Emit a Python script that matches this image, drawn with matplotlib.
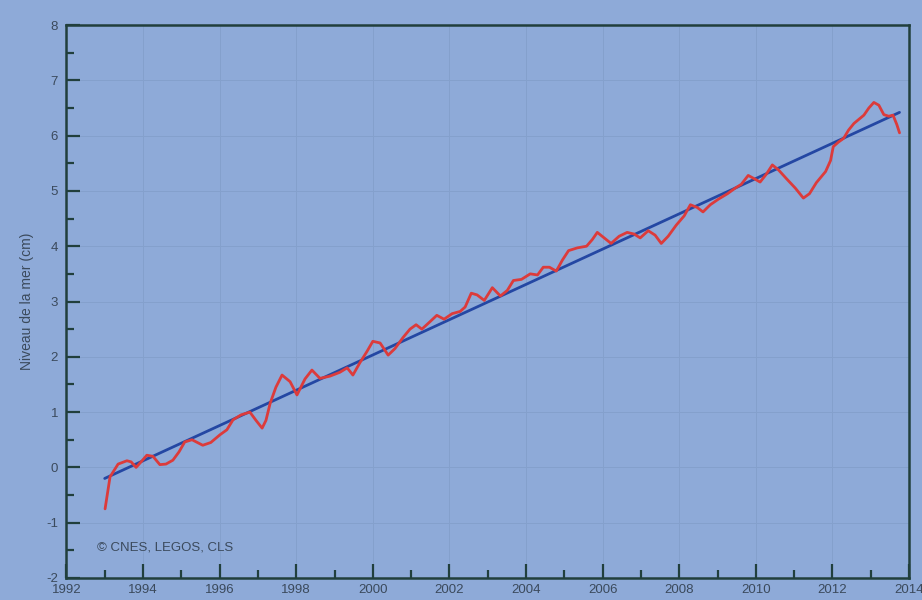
import matplotlib
matplotlib.use("Agg")
import matplotlib.pyplot as plt
from matplotlib.ticker import MultipleLocator

# Mean sea level (cm) from satellite altimetry, 1993-2013
years = [
    1993.01, 1993.14, 1993.35, 1993.58, 1993.69, 1993.82, 1993.95, 1994.10,
    1994.26, 1994.44, 1994.60, 1994.78, 1994.94, 1995.09, 1995.28, 1995.56,
    1995.77, 1996.01, 1996.19, 1996.35, 1996.56, 1996.79, 1996.95, 1997.11,
    1997.21, 1997.32, 1997.47, 1997.63, 1997.84, 1998.02, 1998.23, 1998.41,
    1998.62, 1998.88, 1999.14, 1999.33, 1999.48, 1999.66, 1999.85, 2000.00,
    2000.19, 2000.40, 2000.58, 2000.79, 2000.97, 2001.13, 2001.28, 2001.47,
    2001.67, 2001.86, 2002.07, 2002.28, 2002.41, 2002.57, 2002.72, 2002.91,
    2003.12, 2003.33, 2003.51, 2003.67, 2003.88, 2004.11, 2004.30, 2004.45,
    2004.61, 2004.79, 2004.95, 2005.11, 2005.34, 2005.58, 2005.73, 2005.86,
    2006.04, 2006.22, 2006.43, 2006.64, 2006.82, 2006.98, 2007.19, 2007.37,
    2007.53, 2007.71, 2007.92, 2008.13, 2008.29, 2008.47, 2008.62, 2008.81,
    2009.02, 2009.26, 2009.46, 2009.62, 2009.80, 2009.96, 2010.11, 2010.27,
    2010.43, 2010.59, 2010.80, 2011.03, 2011.24, 2011.40, 2011.58, 2011.82,
    2011.95, 2012.02, 2012.15, 2012.29, 2012.42, 2012.56, 2012.82, 2012.95,
    2013.08, 2013.21, 2013.34, 2013.47, 2013.58, 2013.68, 2013.75,
]
sea_level = [
    -0.75, -0.17, 0.06, 0.12, 0.10, 0.00, 0.10, 0.22,
    0.20, 0.05, 0.06, 0.13, 0.28, 0.46, 0.50, 0.40,
    0.45, 0.59, 0.68, 0.86, 0.95, 1.00, 0.85, 0.71,
    0.85, 1.16, 1.45, 1.67, 1.55, 1.31, 1.60, 1.76,
    1.61, 1.65, 1.72, 1.80, 1.67, 1.89, 2.10, 2.28,
    2.25, 2.03, 2.15, 2.35, 2.50, 2.58, 2.50, 2.62,
    2.75, 2.68, 2.78, 2.82, 2.90, 3.15, 3.12, 3.02,
    3.25, 3.10, 3.20, 3.38, 3.40, 3.50, 3.48, 3.62,
    3.62, 3.55, 3.75, 3.92, 3.97, 4.00, 4.12, 4.25,
    4.15, 4.05, 4.18, 4.25, 4.22, 4.15, 4.28, 4.20,
    4.05, 4.18, 4.38, 4.55, 4.75, 4.70, 4.62, 4.75,
    4.85, 4.95, 5.05, 5.12, 5.28, 5.22, 5.16, 5.30,
    5.47, 5.38, 5.22, 5.05, 4.87, 4.95, 5.15, 5.35,
    5.55, 5.80, 5.88, 5.95, 6.10, 6.22, 6.37, 6.50,
    6.60, 6.55, 6.38, 6.35, 6.37, 6.20, 6.05,
]

# Linear trend end points
trend_years = [1993.0, 2013.75]
trend_level = [-0.20, 6.42]

x_ticks = list(range(1992, 2015, 2))
y_ticks = list(range(-2, 9))

BG = "#8eaad8"
SPINE = "#213f3c"
TEXT = "#3b4a5c"

plt.rcParams["font.family"] = ["Liberation Sans", "DejaVu Sans"]
plt.rcParams["axes.unicode_minus"] = False

fig = plt.figure(figsize=(9.22, 6.0), dpi=100, facecolor=BG)
ax = fig.add_axes([0.072, 0.0367, 0.914, 0.9216], facecolor=BG)

ax.plot(trend_years, trend_level, color="#2447a3", lw=2.0, zorder=3,
        solid_capstyle="round")
ax.plot(years, sea_level, color="#dc3b3b", lw=2.0, zorder=4,
        solid_joinstyle="round", solid_capstyle="round")

ax.set_xlim(1992, 2014)
ax.set_ylim(-2, 8)
ax.set_xticks(x_ticks)
ax.set_yticks(y_ticks)
ax.xaxis.set_minor_locator(MultipleLocator(1))
ax.yaxis.set_minor_locator(MultipleLocator(0.5))

ax.tick_params(which="major", direction="in", length=10, width=1.6,
               color=SPINE, labelsize=9.5, labelcolor=TEXT)
ax.tick_params(which="minor", direction="in", length=5.5, width=1.6,
               color=SPINE)
ax.tick_params(axis="x", pad=4)
ax.tick_params(axis="y", pad=6)

for s in ax.spines.values():
    s.set_color(SPINE)
    s.set_linewidth(1.8)

ax.grid(True, which="major", color="#84a0cc", lw=0.7, zorder=0)

ax.set_ylabel("Niveau de la mer (cm)", fontsize=10, color=TEXT, labelpad=9)

ax.text(1992.8, -1.45, "© CNES, LEGOS, CLS", fontsize=9.5, color=TEXT,
        va="center", ha="left")

fig.savefig("out.png", dpi=100, facecolor=BG)
